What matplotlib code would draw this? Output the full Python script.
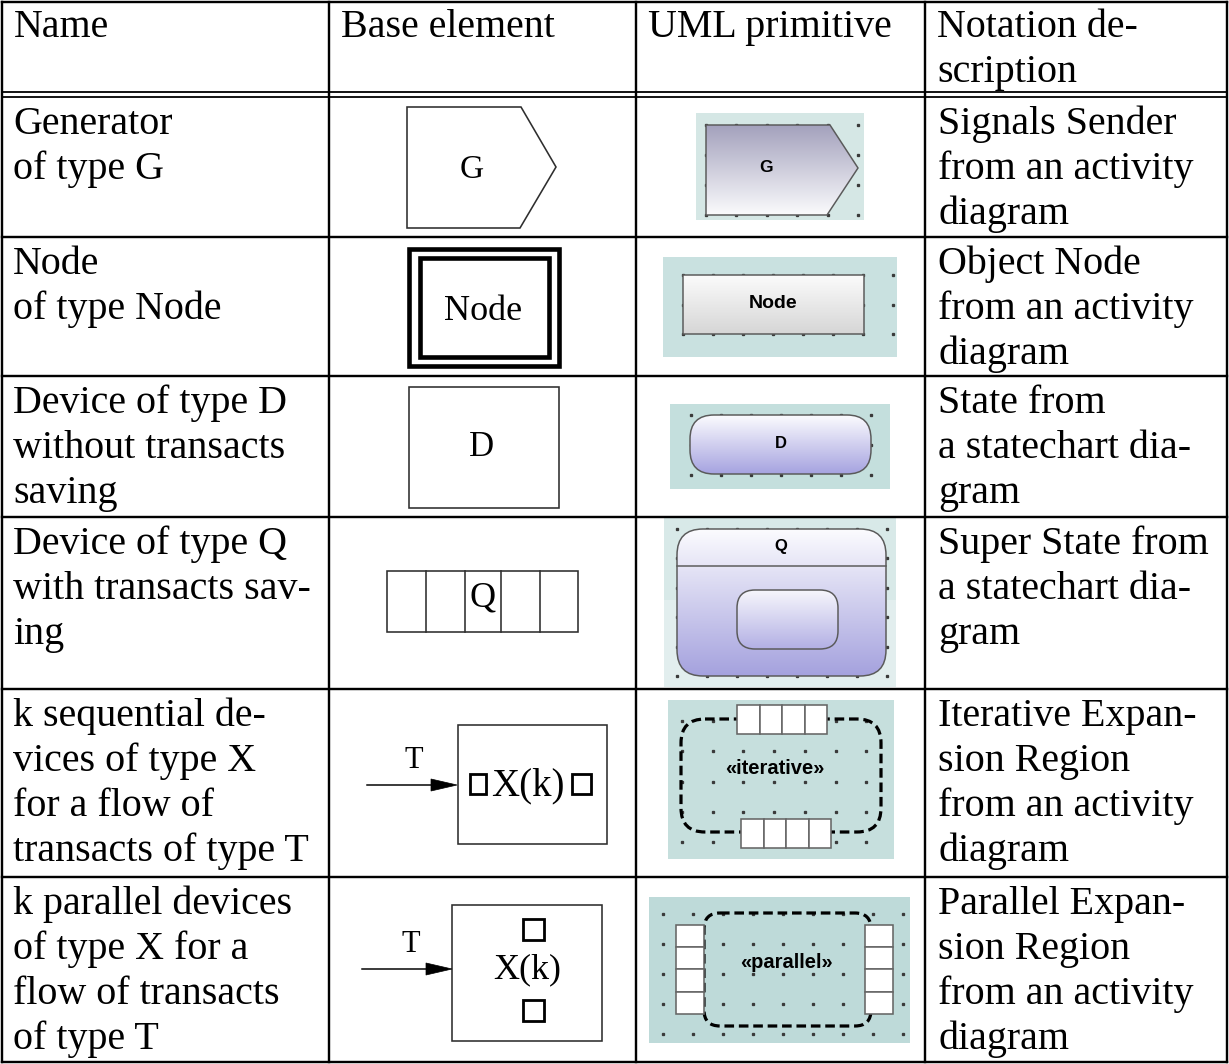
import numpy as np
import matplotlib
matplotlib.use("Agg")
import matplotlib.pyplot as plt
from matplotlib.patches import Rectangle, Polygon, FancyBboxPatch

# table text
headers = [["Name"], ["Base element"], ["UML primitive"], ["Notation de-", "scription"]]
name_lines = [
    ["Generator", "of type G"],
    ["Node", "of type Node"],
    ["Device of type D", "without transacts", "saving"],
    ["Device of type Q", "with transacts sav-", "ing"],
    ["k sequential de-", "vices of type X", "for a flow of", "transacts of type T"],
    ["k parallel devices", "of type X for a", "flow of transacts", "of type T"],
]
notation_lines = [
    ["Signals Sender", "from an activity", "diagram"],
    ["Object Node", "from an activity", "diagram"],
    ["State from", "a statechart dia-", "gram"],
    ["Super State from", "a statechart dia-", "gram"],
    ["Iterative Expan-", "sion Region", "from an activity", "diagram"],
    ["Parallel Expan-", "sion Region", "from an activity", "diagram"],
]
base_labels = ["G", "Node", "D", "Q", "X(k)", "X(k)"]
uml_labels = ["G", "Node", "D", "Q", "«iterative»", "«parallel»"]
flow_label = "T"

# layout (pixels)
W, H = 1229, 1064
col_x = [2, 329, 636, 925, 1227]
row_lines = [237, 376, 517, 689, 877]
row_tops = [97, 237, 376, 517, 689, 877]
LINE = 45
SERIF = "Liberation Serif"
SANS = "Liberation Sans"
PX = 0.72  # points per pixel at dpi 100

fig = plt.figure(figsize=(W / 100, H / 100), dpi=100)
ax = fig.add_axes([0, 0, 1, 1])
ax.axis("off")


def gradient(patch, x0, y0, x1, y1, c_top, c_bot, z=3):
    t = np.linspace(0, 1, 64)[:, None]
    cols = (1 - t) * np.array(matplotlib.colors.to_rgb(c_top)) + t * np.array(matplotlib.colors.to_rgb(c_bot))
    im = ax.imshow(cols[:, None, :], extent=(x0, x1, y1, y0), origin="upper",
                   aspect="auto", interpolation="bilinear", zorder=z)
    patch.set_facecolor("none")
    patch.set_zorder(z + 0.5)
    ax.add_patch(patch)
    im.set_clip_path(patch)


def dots(x0, y0, step_x, step_y, nx, ny):
    gx, gy = np.meshgrid(x0 + step_x * np.arange(nx), y0 + step_y * np.arange(ny))
    ax.plot(gx.ravel(), gy.ravel(), ls="none", marker="s", ms=1.4, color="#3a3a3a", zorder=2)


def bg(x0, y0, x1, y1, color="#cce2e0"):
    ax.add_patch(Rectangle((x0, y0), x1 - x0, y1 - y0, facecolor=color, edgecolor="none", zorder=1))


def uml_text(x, y, s, size=11):
    ax.text(x, y, s, ha="center", va="center", fontsize=size, family=SANS,
            fontweight="bold", zorder=6)


def serif_text(x, y, s, size):
    ax.text(x, y, s, ha="center", va="center", fontsize=size, family=SERIF, zorder=6)


def flow_arrow(x0, x1, y):
    ax.plot([x0, x1 - 20], [y, y], color="black", lw=1.5 * PX, zorder=5)
    ax.add_patch(Polygon([(x1 - 26, y - 6), (x1, y), (x1 - 26, y + 6)], closed=True,
                         facecolor="black", edgecolor="black", lw=0.5, zorder=5))


# ---- table text ----
header_x = [c + 12 for c in col_x[:4]]
for x, lines in zip(header_x, headers):
    for i, s in enumerate(lines):
        ax.text(x, 37 + i * LINE, s, fontsize=28.8, family=SERIF, va="baseline")

for top, nl, tl in zip(row_tops, name_lines, notation_lines):
    for i, s in enumerate(nl):
        ax.text(col_x[0] + 11, top + 37 + i * LINE, s, fontsize=28.8, family=SERIF, va="baseline")
    for i, s in enumerate(tl):
        ax.text(col_x[3] + 13, top + 37 + i * LINE, s, fontsize=28.8, family=SERIF, va="baseline")

# ---- table grid ----
lw = 2.4 * PX
for x in col_x:
    ax.plot([x, x], [2, 1062], color="black", lw=lw, solid_capstyle="projecting", zorder=8)
ax.plot([2, 1227], [2, 2], color="black", lw=lw, zorder=8)
ax.plot([2, 1227], [1062, 1062], color="black", lw=lw, zorder=8)
ax.plot([2, 1227], [92, 92], color="black", lw=1.8 * PX, zorder=8)
ax.plot([2, 1227], [97, 97], color="black", lw=1.8 * PX, zorder=8)
for y in row_lines:
    ax.plot([2, 1227], [y, y], color="black", lw=lw, zorder=8)

edge = "#2e2e2e"
uml_edge = "#5a5a5a"

# ---- row 1: generator ----
ax.add_patch(Polygon([(407, 107), (521, 107), (556, 167), (520, 228), (407, 228)],
                     closed=True, facecolor="white", edgecolor=edge, lw=1.6 * PX, zorder=3))
serif_text(472, 170, base_labels[0], 24)

bg(696, 113, 864, 220, "#d5e7e5")
dots(706, 125, 30.4, 30, 6, 4)
gradient(Polygon([(706, 125), (830, 125), (858, 168), (827, 215), (706, 215)], closed=True,
                 edgecolor=uml_edge, lw=1.5 * PX), 706, 125, 858, 215, "#a4a2bd", "#fafafc")
uml_text(766, 167, uml_labels[0], 12.5)

# ---- row 2: node ----
ax.add_patch(Rectangle((408.5, 248.5), 150, 117.5, facecolor="white", edgecolor="black", lw=4.6 * PX, zorder=3))
ax.add_patch(Rectangle((419.5, 257.5), 129, 99.5, facecolor="white", edgecolor="black", lw=4.6 * PX, zorder=3))
serif_text(483, 311, base_labels[1], 26)

bg(663, 257, 897, 357, "#c9e1e0")
dots(683, 275, 30, 29.5, 8, 3)
gradient(Rectangle((683, 275), 181, 59, edgecolor=uml_edge, lw=1.5 * PX), 683, 275, 864, 334,
         "#fbfbfb", "#d6d6d6")
uml_text(773, 304, uml_labels[1], 14)

# ---- row 3: device D ----
ax.add_patch(Rectangle((409, 387), 150, 121, facecolor="white", edgecolor=edge, lw=1.6 * PX, zorder=3))
serif_text(482, 448, base_labels[2], 25)

bg(670, 404, 890, 489, "#c4dfdd")
dots(691, 415, 30, 30, 7, 3)
gradient(FancyBboxPatch((690, 415), 181, 59, boxstyle="round,pad=0,rounding_size=24",
                        edgecolor=uml_edge, lw=1.5 * PX), 690, 415, 871, 474, "#fbfbfe", "#a6a3e0")
uml_text(781, 444, uml_labels[2], 12)

# ---- row 4: device Q with queue ----
ax.add_patch(Rectangle((387, 571), 191, 61, facecolor="white", edgecolor=edge, lw=1.6 * PX, zorder=3))
for xd in [426, 465, 501, 540]:
    ax.plot([xd, xd], [571, 632], color=edge, lw=1.6 * PX, zorder=4)
serif_text(483, 598, base_labels[3], 26)

bg(664, 518, 896, 687, "#d8e9e8")
ax.add_patch(Rectangle((664, 600), 232, 87, facecolor="#e2eeee", edgecolor="none", zorder=1.2))
dots(677, 529, 30, 29.4, 8, 6)
gradient(FancyBboxPatch((677, 529), 209, 147, boxstyle="round,pad=0,rounding_size=26",
                        edgecolor=uml_edge, lw=1.5 * PX), 677, 529, 886, 676, "#fbfbfe", "#a5a2de")
ax.plot([677, 886], [566, 566], color=uml_edge, lw=1.5 * PX, zorder=5)
gradient(FancyBboxPatch((737, 590), 101, 59, boxstyle="round,pad=0,rounding_size=18",
                        edgecolor=uml_edge, lw=1.5 * PX), 737, 590, 838, 649, "#f6f6fc", "#b3b0e4", z=5)
uml_text(781, 547, uml_labels[3], 12)

# ---- row 5: k sequential devices ----
ax.add_patch(Rectangle((458, 725), 149, 119, facecolor="white", edgecolor=edge, lw=1.6 * PX, zorder=3))
flow_arrow(367, 457, 785)
serif_text(414, 761, flow_label, 22)
ax.add_patch(Rectangle((470, 774), 16, 20, facecolor="white", edgecolor="black", lw=2.8 * PX, zorder=4))
ax.add_patch(Rectangle((572, 774), 19, 20, facecolor="white", edgecolor="black", lw=2.8 * PX, zorder=4))
serif_text(528, 786, base_labels[4], 28)

bg(668, 700, 894, 859, "#c6dfdd")
dots(682, 721, 30.7, 30.3, 7, 5)
ax.add_patch(FancyBboxPatch((681, 719), 200, 113, boxstyle="round,pad=0,rounding_size=24",
                            facecolor="none", edgecolor="black", lw=3.2 * PX, ls=(0, (3, 1.5)), zorder=3))
for gx0, gy0 in [(737, 705), (741, 819)]:
    for k in range(4):
        ax.add_patch(Rectangle((gx0 + k * 22.5, gy0), 22.5, 29, facecolor="white",
                               edgecolor="#666666", lw=1.6 * PX, zorder=4))
uml_text(775, 769, uml_labels[4], 14.5)

# ---- row 6: k parallel devices ----
ax.add_patch(Rectangle((452, 905), 150, 136, facecolor="white", edgecolor=edge, lw=1.6 * PX, zorder=3))
flow_arrow(362, 452, 969)
serif_text(411, 945, flow_label, 22)
ax.add_patch(Rectangle((523, 919), 21, 21, facecolor="white", edgecolor="black", lw=2.8 * PX, zorder=4))
ax.add_patch(Rectangle((523, 1000), 21, 21, facecolor="white", edgecolor="black", lw=2.8 * PX, zorder=4))
serif_text(527, 970, base_labels[5], 26)

bg(649, 897, 910, 1043, "#bedad9")
dots(663, 914, 30, 30, 9, 5)
ax.add_patch(FancyBboxPatch((704, 913), 167, 113, boxstyle="round,pad=0,rounding_size=16",
                            facecolor="none", edgecolor="black", lw=3.2 * PX, ls=(0, (3, 1.5)), zorder=3))
for px0 in [676, 865]:
    for k in range(4):
        ax.add_patch(Rectangle((px0, 925 + k * 22.2), 28, 22.2, facecolor="white",
                               edgecolor="#666666", lw=1.6 * PX, zorder=4))
uml_text(786, 962, uml_labels[5], 14.5)

ax.set_xlim(0, W)
ax.set_ylim(H, 0)
fig.savefig("out.png", dpi=100, facecolor="white")
